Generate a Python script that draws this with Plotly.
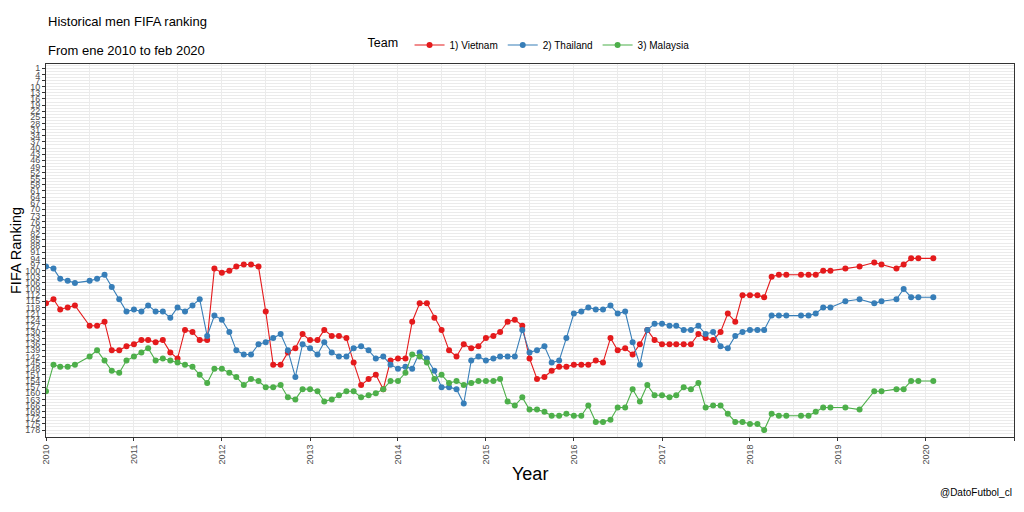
"""Historical men FIFA ranking: Vietnam, Thailand, Malaysia (2010-2020)."""

import plotly.graph_objects as go

# Ranking release dates (months without a release are skipped)
dates = [
    "2010-01", "2010-02", "2010-03", "2010-04", "2010-05", "2010-07", "2010-08", "2010-09", "2010-10", "2010-11", "2010-12",
    "2011-01", "2011-02", "2011-03", "2011-04", "2011-05", "2011-06", "2011-07", "2011-08", "2011-09", "2011-10", "2011-11", "2011-12",
    "2012-01", "2012-02", "2012-03", "2012-04", "2012-05", "2012-06", "2012-07", "2012-08", "2012-09", "2012-10", "2012-11", "2012-12",
    "2013-01", "2013-02", "2013-03", "2013-04", "2013-05", "2013-06", "2013-07", "2013-08", "2013-09", "2013-10", "2013-11", "2013-12",
    "2014-01", "2014-02", "2014-03", "2014-04", "2014-05", "2014-06", "2014-07", "2014-08", "2014-09", "2014-10", "2014-11", "2014-12",
    "2015-01", "2015-02", "2015-03", "2015-04", "2015-05", "2015-06", "2015-07", "2015-08", "2015-09", "2015-10", "2015-11", "2015-12",
    "2016-01", "2016-02", "2016-03", "2016-04", "2016-05", "2016-06", "2016-07", "2016-08", "2016-09", "2016-10", "2016-11", "2016-12",
    "2017-01", "2017-02", "2017-03", "2017-04", "2017-05", "2017-06", "2017-07", "2017-08", "2017-09", "2017-10", "2017-11", "2017-12",
    "2018-01", "2018-02", "2018-03", "2018-04", "2018-05", "2018-06", "2018-08", "2018-09", "2018-10", "2018-11", "2018-12",
    "2019-02", "2019-04", "2019-06", "2019-07", "2019-09", "2019-10", "2019-11", "2019-12",
    "2020-02",
]

vietnam = [
    116, 114, 119, 118, 117, 127, 127, 125, 139, 139, 137,
    136, 134, 134, 135, 134, 140, 143, 129, 130, 134, 134, 99,
    101, 100, 98, 97, 97, 98, 120, 146, 146, 140, 138, 131,
    134, 134, 129, 132, 132, 133, 145, 156, 153, 151, 158, 144,
    143, 143, 125, 116, 116, 123, 129, 139, 142, 136, 138, 137,
    133, 132, 130, 125, 124, 127, 143, 153, 152, 149, 147, 147,
    146, 146, 146, 144, 145, 133, 139, 138, 141, 136, 129, 134,
    136, 136, 136, 136, 136, 131, 133, 134, 130, 121, 125, 112,
    112, 112, 113, 103, 102, 102, 102, 102, 102, 100, 100,
    99, 98, 96, 97, 99, 97, 94, 94,
    94,
]

thailand = [
    98, 99, 104, 105, 106, 105, 104, 102, 108, 114, 120,
    119, 120, 117, 120, 120, 123, 118, 120, 117, 114, 132, 122,
    124, 130, 139, 141, 141, 136, 135, 133, 131, 139, 152, 136,
    138, 141, 135, 140, 142, 142, 138, 137, 139, 143, 142, 146,
    148, 147, 148, 140, 143, 149, 157, 157, 158, 165, 144, 142,
    144, 143, 142, 142, 142, 129, 140, 139, 137, 145, 144, 133,
    121, 120, 118, 119, 119, 117, 121, 120, 135, 146, 129, 126,
    126, 127, 127, 129, 129, 127, 131, 130, 137, 138, 132, 130,
    129, 129, 129, 122, 122, 122, 122, 122, 121, 118, 118,
    115, 114, 116, 115, 114, 109, 113, 113,
    113,
]

malaysia = [
    159, 146, 147, 147, 146, 142, 139, 144, 149, 150, 144,
    142, 140, 138, 144, 143, 144, 145, 146, 147, 151, 155, 148,
    148, 150, 152, 156, 153, 154, 157, 157, 156, 162, 163, 158,
    158, 159, 164, 163, 161, 159, 159, 162, 161, 160, 158, 154,
    154, 150, 141, 142, 145, 153, 151, 155, 154, 156, 155, 154,
    154, 154, 153, 164, 166, 162, 168, 168, 169, 171, 171, 170,
    171, 171, 166, 174, 174, 173, 167, 167, 158, 164, 156, 161,
    161, 162, 161, 157, 158, 155, 167, 166, 166, 170, 174, 174,
    175, 175, 178, 170, 171, 171, 171, 171, 169, 167, 167,
    167, 168, 159, 159, 158, 158, 154, 154,
    154,
]

teams = ["1) Vietnam", "2) Thailand", "3) Malaysia"]
colors = ["#E41A1C", "#377EB8", "#4DAF4A"]
rank_ticks = list(range(1, 179, 3))

FONT = "Liberation Sans, Arial, Helvetica, sans-serif"
GRID = "#ebebeb"

fig = go.Figure()
for name, ranks, color in zip(teams, [vietnam, thailand, malaysia], colors):
    fig.add_trace(
        go.Scatter(
            x=dates,
            y=ranks,
            mode="lines+markers",
            name=name,
            line={"color": color, "width": 1.1},
            marker={"color": color, "size": 6},
        )
    )

# the page keeps an 8px body margin, so the figure is sized to the visible area
fig.update_layout(
    width=1008,
    height=496,
    paper_bgcolor="white",
    plot_bgcolor="white",
    margin={"l": 38, "r": 2, "t": 56, "b": 67},
    font={"family": FONT, "color": "#000000"},
    showlegend=True,
    legend={
        "orientation": "h",
        "x": 0.5,
        "xanchor": "center",
        "y": 1.051,
        "yanchor": "middle",
        "title": {"text": "Team ", "font": {"size": 12.5}},
        "font": {"size": 10},
        "itemwidth": 30,
        "tracegroupgap": 0,
    },
    annotations=[
        {"text": "Historical men FIFA ranking", "xref": "paper", "yref": "paper",
         "x": 0, "y": 1.115, "xanchor": "left", "yanchor": "middle",
         "showarrow": False, "font": {"size": 13}},
        {"text": "From ene 2010 to feb 2020", "xref": "paper", "yref": "paper",
         "x": 0, "y": 1.0375, "xanchor": "left", "yanchor": "middle",
         "showarrow": False, "font": {"size": 13}},
        {"text": "Year", "xref": "paper", "yref": "paper",
         "x": 0.5, "y": -0.098, "xanchor": "center", "yanchor": "middle",
         "showarrow": False, "font": {"size": 18}},
        {"text": "FIFA Ranking", "xref": "paper", "yref": "paper",
         "x": -0.0315, "y": 0.5, "xanchor": "center", "yanchor": "middle",
         "textangle": -90, "showarrow": False, "font": {"size": 14.5}},
        {"text": "@DatoFutbol_cl", "xref": "paper", "yref": "paper",
         "x": 1.0, "y": -0.148, "xanchor": "right", "yanchor": "middle",
         "showarrow": False, "font": {"size": 10}},
    ],
)

fig.update_xaxes(
    type="date",
    range=["2010-01-01", "2021-01-01"],
    tick0="2010-01-01",
    dtick="M12",
    tickformat="%Y",
    tickangle=-90,
    tickfont={"size": 9, "color": "#4d4d4d"},
    ticks="outside",
    ticklen=3,
    tickcolor="#333333",
    showgrid=True,
    gridcolor=GRID,
    gridwidth=1,
    minor={"dtick": "M6", "tick0": "2010-01-01", "showgrid": True,
           "gridcolor": GRID, "gridwidth": 0.5},
    showline=True,
    mirror=True,
    linecolor="#333333",
    linewidth=1,
    zeroline=False,
)

fig.update_yaxes(
    range=[181.4, -1.1],
    tickmode="array",
    tickvals=rank_ticks,
    ticktext=[str(r) for r in rank_ticks],
    tickfont={"size": 9, "color": "#4d4d4d"},
    ticks="outside",
    ticklen=3,
    tickcolor="#333333",
    showgrid=True,
    gridcolor=GRID,
    gridwidth=1,
    minor={"tickmode": "linear", "dtick": 1.5, "tick0": 1, "showgrid": True,
           "gridcolor": GRID, "gridwidth": 0.5},
    showline=True,
    mirror=True,
    linecolor="#333333",
    linewidth=1,
    zeroline=False,
)

fig.write_html("out.html")
